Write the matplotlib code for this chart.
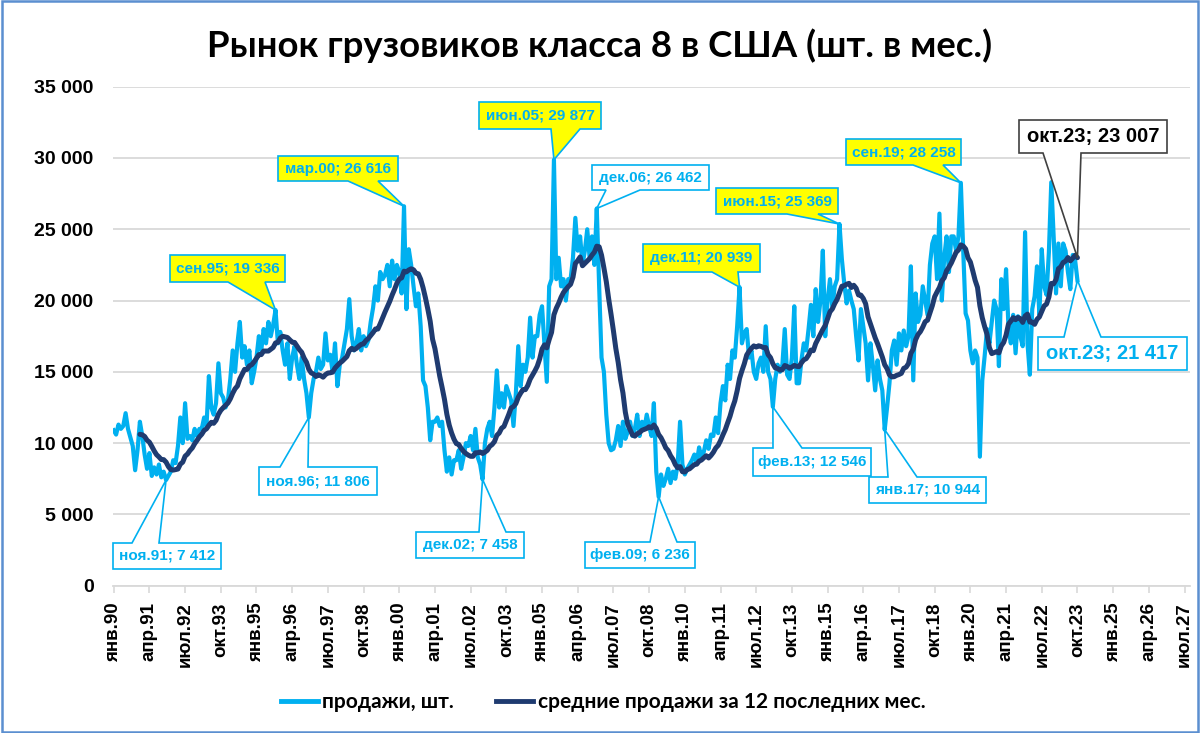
import numpy as np
import pandas as pd
import matplotlib
matplotlib.use("Agg")
import matplotlib.pyplot as plt
from matplotlib.patches import Polygon, Rectangle
from matplotlib.lines import Line2D

# ---------------- data (monthly class 8 truck sales, units) ----------------
y1990 = [10900, 10600, 11300, 11000, 11200, 12100, 11000, 10400, 9800, 8100, 9500, 11500]
y1991 = [10500, 9200, 8200, 9300, 7700, 8300, 7800, 8500, 7600, 8000, 7412, 7700]
y1992 = [8000, 8800, 8600, 9800, 11800, 10000, 12800, 10300, 10500, 10200, 11000, 10500]
y1993 = [11000, 11000, 11800, 11200, 14700, 12500, 12000, 12800, 15600, 13500, 13200, 12500]
y1994 = [13000, 14500, 16500, 15000, 17000, 18500, 16000, 16800, 15500, 16500, 14200, 15000]
y1995 = [16000, 17500, 16500, 18000, 17000, 18500, 17500, 18300, 19336, 17000, 17800, 16500]
y1996 = [15500, 17000, 14500, 16000, 16800, 15500, 14500, 16000, 14500, 13500, 11806, 13500]
y1997 = [14500, 15000, 16000, 15200, 15500, 17700, 15800, 16200, 15000, 17000, 14000, 15500]
y1998 = [16000, 17000, 18000, 20100, 17500, 16500, 17000, 18000, 16500, 17500, 16800, 17200]
y1999 = [18500, 19500, 21000, 20000, 22000, 21500, 21800, 22500, 21000, 22800, 21500, 22500]
y2000 = [22000, 20500, 26616, 19400, 23600, 22500, 21000, 19600, 20500, 18200, 14400, 14000]
y2001 = [12500, 10200, 11500, 11500, 11800, 11200, 11500, 9500, 8000, 9000, 7800, 8800]
y2002 = [8800, 9500, 8200, 9000, 10000, 9800, 10500, 9500, 11000, 9000, 8500, 7458]
y2003 = [10000, 11000, 11500, 10500, 12500, 15100, 12500, 13500, 12500, 14000, 13500, 13000]
y2004 = [11200, 13500, 16800, 14000, 15500, 15000, 16000, 18800, 16000, 17500, 17500, 19000]
y2005 = [19600, 17000, 14300, 21000, 21500, 29877, 21500, 23000, 21000, 21500, 20000, 21500]
y2006 = [21500, 23000, 25800, 23500, 24500, 22500, 23500, 25000, 23000, 24500, 22500, 26462]
y2007 = [21000, 16000, 15000, 12000, 10000, 9500, 9600, 10200, 11200, 9800, 11500, 10300]
y2008 = [10800, 11500, 10500, 11000, 12000, 10500, 11500, 11000, 12000, 11200, 10500, 12800]
y2009 = [8000, 6236, 7800, 7000, 7500, 8200, 7200, 8000, 7500, 8500, 11500, 8500]
y2010 = [7800, 8200, 8500, 8800, 9200, 8600, 9700, 9000, 9400, 10200, 9600, 10600]
y2011 = [10500, 11800, 10700, 12800, 14000, 13000, 15500, 14500, 16500, 16000, 18200, 20939]
y2012 = [17000, 17700, 18000, 16000, 16500, 15000, 14500, 15600, 16000, 15000, 18200, 15000]
y2013 = [14500, 12546, 14500, 15500, 15000, 15500, 18000, 14800, 14500, 16000, 19600, 14200]
y2014 = [14200, 15800, 17000, 16500, 18000, 19700, 17500, 20800, 18500, 20000, 23500, 17500]
y2015 = [20000, 21500, 19500, 21000, 21500, 25369, 22900, 21200, 19800, 20700, 20000, 19400]
y2016 = [17500, 15800, 19400, 18200, 17000, 14400, 17000, 15500, 13700, 15800, 14500, 13700]
y2017 = [10944, 12500, 14200, 16500, 17200, 15500, 17700, 16500, 17900, 16800, 17500, 22400]
y2018 = [14400, 20500, 18500, 19000, 21000, 20000, 19000, 22500, 24000, 24500, 21500, 26100]
y2019 = [20000, 23000, 24500, 22000, 24500, 24500, 23500, 24500, 28258, 23500, 19100, 18600]
y2020 = [16500, 15600, 16500, 16000, 9050, 14400, 16100, 18000, 17000, 18500, 20000, 19400]
y2021 = [15400, 21500, 19400, 22200, 18200, 17000, 19000, 16300, 18900, 17500, 16800, 24800]
y2022 = [17000, 14800, 19400, 20300, 22400, 19000, 23600, 21000, 20400, 23400, 28300, 24500]
y2023 = [20500, 24000, 21000, 24000, 23500, 22000, 20800, 23200, 22867, 21417]

years = [y1990, y1991, y1992, y1993, y1994, y1995, y1996, y1997, y1998, y1999,
         y2000, y2001, y2002, y2003, y2004, y2005, y2006, y2007, y2008, y2009,
         y2010, y2011, y2012, y2013, y2014, y2015, y2016, y2017, y2018, y2019,
         y2020, y2021, y2022, y2023]
sales = np.array([v for y in years for v in y], dtype=float)
months = np.arange(len(sales))
ma12 = pd.Series(sales).rolling(12).mean().to_numpy()

tick_labels = ['янв.90', 'апр.91', 'июл.92', 'окт.93', 'янв.95', 'апр.96', 'июл.97', 'окт.98',
               'янв.00', 'апр.01', 'июл.02', 'окт.03', 'янв.05', 'апр.06', 'июл.07', 'окт.08',
               'янв.10', 'апр.11', 'июл.12', 'окт.13', 'янв.15', 'апр.16', 'июл.17', 'окт.18',
               'янв.20', 'апр.21', 'июл.22', 'окт.23', 'янв.25', 'апр.26', 'июл.27']
month_names = ['янв', 'фев', 'мар', 'апр', 'май', 'июн', 'июл', 'авг', 'сен', 'окт', 'ноя', 'дек']
y_ticks = [0, 5000, 10000, 15000, 20000, 25000, 30000, 35000]

title = 'Рынок грузовиков класса 8 в США (шт. в мес.)'
legend_labels = ['продажи, шт.', 'средние продажи за 12 последних мес.']

# ---------------- figure ----------------
W, H = 1200, 733
fig = plt.figure(figsize=(W / 100, H / 100), dpi=100)
fig.patch.set_facecolor('white')

ax_l, ax_r, ax_t, ax_b = 113, 1190, 86.7, 585.7
ax = fig.add_axes([ax_l / W, 1 - ax_b / H, (ax_r - ax_l) / W, (ax_b - ax_t) / H])

LIGHT = '#00B0F0'
DARK = '#1F3B70'
GRID = '#D9D9D9'

ax.plot(months, sales, color=LIGHT, lw=3.0, solid_joinstyle='round', zorder=3)
ax.plot(months, ma12, color=DARK, lw=3.6, solid_joinstyle='round', solid_capstyle='round', zorder=4)

ax.set_xlim(-0.3, 452.3)
ax.set_ylim(0, 35000)

ax.set_yticks(y_ticks)
ax.set_yticklabels([f'{v:,}'.replace(',', ' ') for v in y_ticks])
ax.set_xticks(np.arange(0, 451, 15))
ax.set_xticklabels(tick_labels, rotation=90)

ax.grid(axis='y', color=GRID, lw=1.3, zorder=0)
ax.set_axisbelow(True)
for s in ['top', 'right', 'left']:
    ax.spines[s].set_visible(False)
ax.spines['bottom'].set_color(GRID)
ax.spines['bottom'].set_linewidth(1.3)
ax.tick_params(axis='y', length=0, pad=14, labelsize=14)
ax.tick_params(axis='x', length=5, width=1.2, color=GRID, pad=7, labelsize=13.5)
for lab in ax.get_yticklabels() + ax.get_xticklabels():
    lab.set_fontfamily('Liberation Sans')
    lab.set_fontweight('bold')

# title
t = fig.text(0.5, 1 - 46 / H, title, ha='center', va='center', fontsize=24,
             fontweight='bold', family='Lato')
fig.canvas.draw()
w = t.get_window_extent().width
t.set_fontsize(24 * 784 / w)

# legend
handles = [Line2D([0], [0], color=LIGHT, lw=3.5), Line2D([0], [0], color=DARK, lw=3.5)]
leg = fig.legend(handles, legend_labels, loc='center', bbox_to_anchor=(603 / W, 1 - 702 / H),
                 ncol=2, frameon=False, handlelength=1.8, handletextpad=0.2, columnspacing=2.0,
                 prop={'family': 'Lato', 'weight': 'bold', 'size': 15})

# ---------------- callouts ----------------
def fmt(m, v):
    return f"{month_names[m % 12]}.{(90 + m // 12) % 100:02d}; " + f"{int(round(v)):,}".replace(',', ' ')


def callout(m, val, box, side, base, face, edge, tcolor, fs, lw=1.2):
    inv = ax.transData.inverted()
    x0, y0, x1, y1 = box
    tx, ty = ax.transData.transform((m, val))
    Yt, Yb = H - y0, H - y1
    b1, b2 = base
    if side == 'bottom':
        pts = [(x0, Yt), (x1, Yt), (x1, Yb), (b2, Yb), (tx, ty), (b1, Yb), (x0, Yb)]
    else:
        pts = [(x0, Yt), (b1, Yt), (tx, ty), (b2, Yt), (x1, Yt), (x1, Yb), (x0, Yb)]
    poly = Polygon(inv.transform(pts), closed=True, facecolor=face, edgecolor=edge, lw=lw,
                   zorder=6, clip_on=False, joinstyle='miter')
    ax.add_patch(poly)
    cx, cy = inv.transform(((x0 + x1) / 2, (Yt + Yb) / 2))
    ax.text(cx, cy, fmt(m, val), ha='center', va='center', color=tcolor, fontsize=fs,
            fontweight='bold', family='Liberation Sans', zorder=7, clip_on=False)


YEL = '#FFFF00'
raw_notes = [
    (22, (113, 543, 221, 569), 'top', (132, 159), 'white'),
    (68, (170, 255, 285, 282), 'bottom', (228, 265), YEL),
    (82, (259, 467, 377, 495), 'top', (280, 308), 'white'),
    (122, (278, 156, 398, 181), 'bottom', (348, 378), YEL),
    (155, (416, 532, 524, 558), 'top', (479, 506), 'white'),
    (185, (479, 102, 601, 129), 'bottom', (551, 580), YEL),
    (203, (592, 165, 709, 190), 'bottom', (606, 640), 'white'),
    (229, (585, 542, 695, 568), 'top', (650, 677), 'white'),
    (263, (643, 244, 760, 272), 'bottom', (712, 738), YEL),
    (277, (753, 448, 871, 476), 'top', (773, 802), 'white'),
    (305, (716, 188, 838, 214), 'bottom', (787, 818), YEL),
    (324, (869, 477, 986, 503), 'top', (888, 917), 'white'),
    (356, (846, 139, 961, 165), 'bottom', (913, 943), YEL),
]
for m, box, side, base, face in raw_notes:
    callout(m, sales[m], box, side, base, face, LIGHT, LIGHT, 11)

last = len(sales) - 1
callout(last, sales[last], (1038, 337, 1187, 370), 'top', (1064, 1101), 'white', LIGHT, LIGHT, 14.5)
callout(last, ma12[last], (1019, 120, 1167, 153), 'bottom', (1043, 1081), 'white', '#404040', 'black', 14.5)

# outer border
fig.patches.append(Rectangle((0.0015, 0.002), 0.997, 0.996, transform=fig.transFigure,
                             fill=False, edgecolor='#5B8FD0', lw=1.8))

fig.savefig('out.png', dpi=100)
